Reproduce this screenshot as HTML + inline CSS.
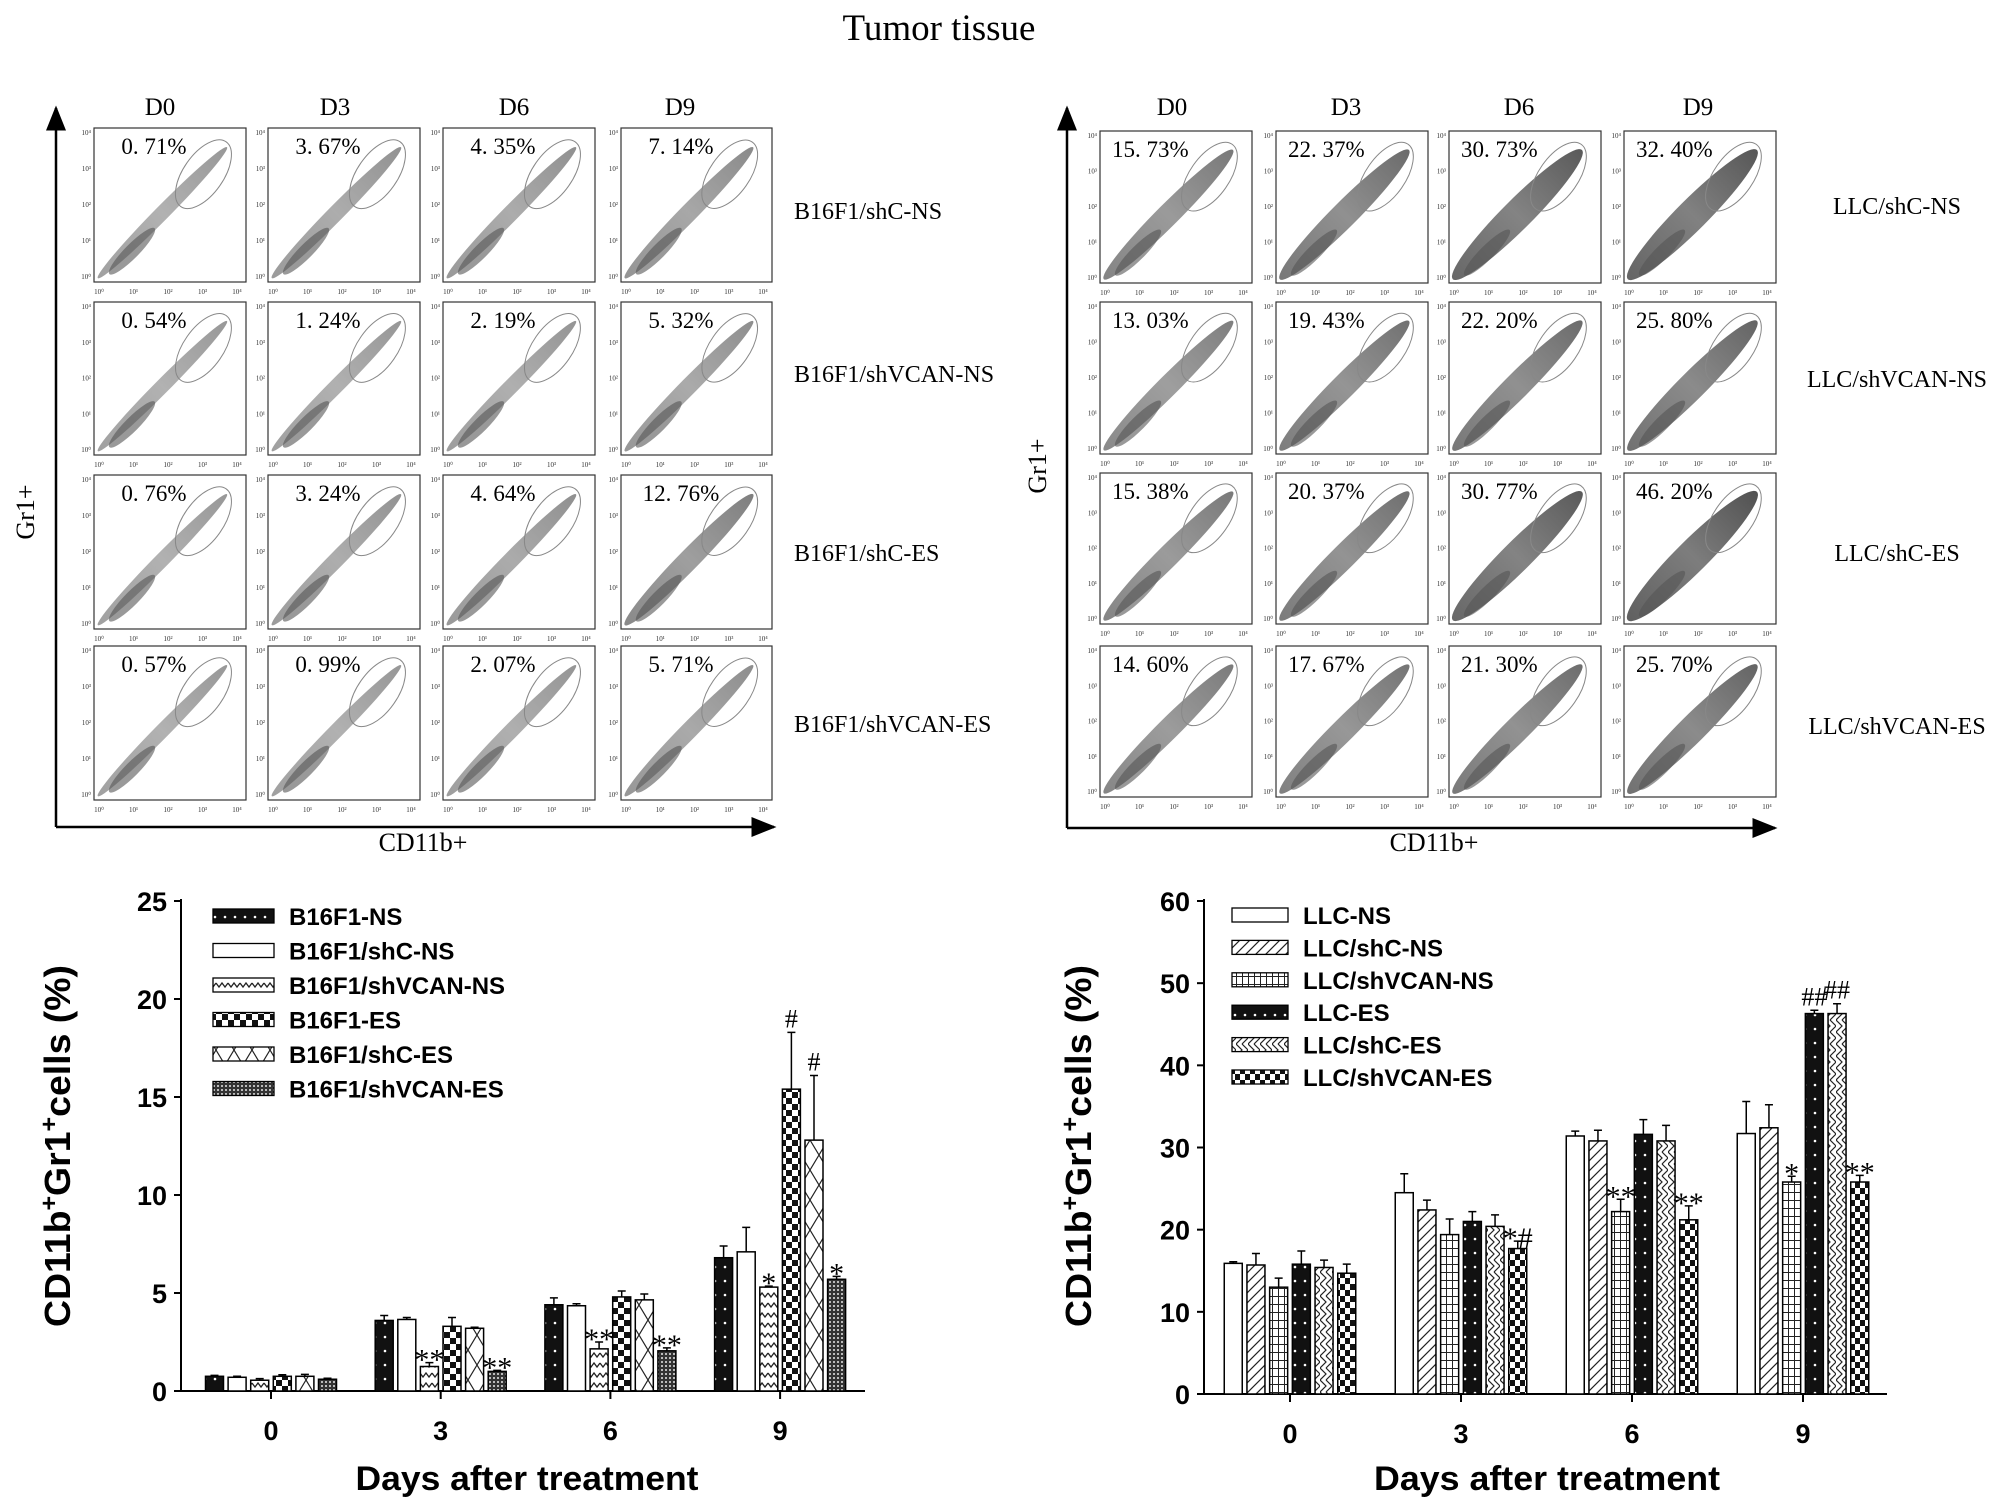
<!DOCTYPE html>
<html><head><meta charset="utf-8"><title>Tumor tissue</title>
<style>
html,body{margin:0;padding:0;background:#fff;}
svg{display:block;}
.serif{font-family:"Liberation Serif",serif;}
.sans{font-family:"Liberation Sans",sans-serif;font-weight:bold;}
</style></head>
<body>
<svg id="fig" xmlns="http://www.w3.org/2000/svg" width="2008" height="1511" viewBox="0 0 2008 1511">
<defs>
  <pattern id="pDots" width="10" height="14" patternUnits="userSpaceOnUse"><rect width="10" height="14" fill="#111"/><circle cx="5" cy="7" r="1.3" fill="#fff"/></pattern>
  <pattern id="pZig" width="12" height="10" patternUnits="userSpaceOnUse"><rect width="12" height="10" fill="#fff"/><path d="M0 3 L3 7 L6 3 L9 7 L12 3" stroke="#222" stroke-width="1.3" fill="none"/></pattern>
  <pattern id="pCheck" width="12" height="12" patternUnits="userSpaceOnUse"><rect width="12" height="12" fill="#fff"/><rect width="6" height="6" fill="#111"/><rect x="6" y="6" width="6" height="6" fill="#111"/></pattern>
  <pattern id="pCheck2" width="10" height="12" patternUnits="userSpaceOnUse"><rect width="10" height="12" fill="#fff"/><rect width="5" height="6" fill="#111"/><rect x="5" y="6" width="5" height="6" fill="#111"/></pattern>
  <pattern id="pX" width="18" height="30" patternUnits="userSpaceOnUse"><rect width="18" height="30" fill="#fff"/><path d="M0 0 L18 30 M18 0 L0 30" stroke="#222" stroke-width="1.2"/></pattern>
  <pattern id="pGrid" width="4" height="4" patternUnits="userSpaceOnUse"><rect width="4" height="4" fill="#333"/><rect x="1" y="1" width="2" height="2" fill="#bbb"/></pattern>
  <pattern id="pHatch" width="10" height="10" patternUnits="userSpaceOnUse"><rect width="10" height="10" fill="#fff"/><path d="M0 10 L10 0 M-2 2 L2 -2 M8 12 L12 8" stroke="#222" stroke-width="1.2"/></pattern>
  <pattern id="pSq" width="6" height="8" patternUnits="userSpaceOnUse"><rect width="6" height="8" fill="#fff"/><path d="M0 0.5 H6 M0.5 0 V8" stroke="#222" stroke-width="1"/></pattern>
  <pattern id="pZig2" width="12" height="12" patternUnits="userSpaceOnUse"><rect width="12" height="12" fill="#fff"/><path d="M0 0 L6 6 L0 12 M6 0 L12 6 L6 12" stroke="#222" stroke-width="1.2" fill="none"/></pattern>
  <linearGradient id="blobG" x1="0" y1="0" x2="1" y2="0"><stop offset="0" stop-color="#444"/><stop offset="0.5" stop-color="#666"/><stop offset="1" stop-color="#333"/></linearGradient>
  <marker id="arr" markerWidth="10" markerHeight="10" refX="9" refY="5" orient="auto"><path d="M0 1 L10 5 L0 9 Z" fill="#000"/></marker>
</defs>

<text x="939" y="40" text-anchor="middle" class="serif" font-size="37">Tumor tissue</text>

<g id="flowLeft"></g>
<g id="flowRight"></g>
<g id="chartLeft"></g>
<g id="chartRight"></g>
</svg>

<script>
// ---------- Flow panel data ----------
const flowDays = ["D0","D3","D6","D9"];
const b16Rows = ["B16F1/shC-NS","B16F1/shVCAN-NS","B16F1/shC-ES","B16F1/shVCAN-ES"];
const b16Pct = [["0. 71%","3. 67%","4. 35%","7. 14%"],["0. 54%","1. 24%","2. 19%","5. 32%"],["0. 76%","3. 24%","4. 64%","12. 76%"],["0. 57%","0. 99%","2. 07%","5. 71%"]];
const llcRows = ["LLC/shC-NS","LLC/shVCAN-NS","LLC/shC-ES","LLC/shVCAN-ES"];
const llcPct = [["15. 73%","22. 37%","30. 73%","32. 40%"],["13. 03%","19. 43%","22. 20%","25. 80%"],["15. 38%","20. 37%","30. 77%","46. 20%"],["14. 60%","17. 67%","21. 30%","25. 70%"]];

// ---------- Bar chart data ----------
const days = ["0","3","6","9"];
const b16Series = ["B16F1-NS","B16F1/shC-NS","B16F1/shVCAN-NS","B16F1-ES","B16F1/shC-ES","B16F1/shVCAN-ES"];
const b16Values = [[0.75,0.7,0.55,0.75,0.75,0.6],[3.6,3.65,1.25,3.3,3.2,1.0],[4.4,4.35,2.15,4.8,4.65,2.05],[6.8,7.1,5.3,15.4,12.8,5.7]];
const b16Errors = [[0.05,0.05,0.08,0.08,0.1,0.05],[0.25,0.1,0.2,0.45,0.05,0.05],[0.35,0.1,0.35,0.3,0.3,0.15],[0.6,1.25,0.05,2.9,3.3,0.15]];
const b16Marks = [["","","","","",""],["","","**","","","**"],["","","**","","","**"],["","","*","#","#","*"]];
const b16Ticks = [0,5,10,15,20,25];
const llcSeries = ["LLC-NS","LLC/shC-NS","LLC/shVCAN-NS","LLC-ES","LLC/shC-ES","LLC/shVCAN-ES"];
const llcValues = [[15.9,15.7,13.0,15.8,15.4,14.7],[24.5,22.4,19.4,21.0,20.4,17.7],[31.4,30.8,22.2,31.6,30.8,21.2],[31.7,32.4,25.8,46.3,46.3,25.8]];
const llcErrors = [[0.2,1.4,1.1,1.6,0.9,1.1],[2.3,1.2,1.9,1.2,1.4,0.9],[0.6,1.3,1.5,1.8,1.9,1.7],[3.9,2.8,0.7,0.4,1.2,0.8]];
const llcMarks = [["","","","","",""],["","","","","","*#"],["","","**","","","**"],["","","*","##","##","**"]];
const llcTicks = [0,10,20,30,40,50,60];

const NS = "http://www.w3.org/2000/svg";
function mk(parent, tag, attrs, text){
  const e = document.createElementNS(NS, tag);
  for (const k in attrs) e.setAttribute(k, attrs[k]);
  if (text !== undefined) e.textContent = text;
  parent.appendChild(e);
  return e;
}

// ---------- Flow panels ----------
function flowBlock(g, cfg){
  const ya = mk(g,"line",{x1:cfg.ax,y1:cfg.ay1,x2:cfg.ax,y2:cfg.ay0,stroke:"#000","stroke-width":2.5,"marker-end":"url(#arr)"});
  
  
  const xa = mk(g,"line",{x1:cfg.ax,y1:cfg.ay1,x2:cfg.ax1,y2:cfg.ay1,stroke:"#000","stroke-width":2.5,"marker-end":"url(#arr)"});
  
  
  const gl = mk(g,"text",{x:cfg.glx,y:cfg.gly,"text-anchor":"middle","font-size":26,class:"serif",transform:`rotate(-90 ${cfg.glx} ${cfg.gly})`},"Gr1+");
  
  
  const cl = mk(g,"text",{x:cfg.clx,y:851,"text-anchor":"middle","font-size":26,class:"serif"},"CD11b+");
  
  
  flowDays.forEach((d,c)=>{
    const t = mk(g,"text",{x:cfg.dayX[c],y:115,"text-anchor":"middle","font-size":25,class:"serif"},d);
    
    
  });
  cfg.rows.forEach((r,ri)=>{
    const t = mk(g,"text",{x:cfg.rowX,y:cfg.rowY[ri]+8,"text-anchor":cfg.rowAnchor,"font-size":24,class:"serif"},r);
    
    
    for (let c=0;c<4;c++){
      const x0=cfg.colX[c][0], x1=cfg.colX[c][1], y0=cfg.rowYr[ri][0], y1=cfg.rowYr[ri][1];
      const w=x1-x0, h=y1-y0;
      const pg = mk(g,"g",{});
      
      
      mk(pg,"rect",{x:x0,y:y0,width:w,height:h,fill:"#fff",stroke:"#333","stroke-width":1.2});
      const cx=x0+w*0.45, cy=y0+h*0.55, L=Math.hypot(w*0.85,h*0.85)/2;
      const ang=-Math.atan2(h*0.85,w*0.85)*180/Math.PI;
      const dens = cfg.dens[ri][c];
      mk(pg,"ellipse",{cx:cx,cy:cy,rx:L,ry:7+dens*9,fill:"url(#blobG)",opacity:0.5+dens*0.35,transform:`rotate(${ang} ${cx} ${cy})`});
      mk(pg,"ellipse",{cx:x0+w*0.25,cy:y0+h*0.8,rx:L*0.35,ry:7,fill:"#555",opacity:0.6,transform:`rotate(${ang} ${x0+w*0.25} ${y0+h*0.8})`});
      const gx=x0+w*0.72, gy=y0+h*0.3;
      mk(pg,"ellipse",{cx:gx,cy:gy,rx:w*0.26,ry:h*0.13,fill:"none",stroke:"#888","stroke-width":1,transform:`rotate(-55 ${gx} ${gy})`});
      for (let k=0;k<5;k++){
        mk(pg,"text",{x:x0+5+k*(w-14)/4,y:y1+12,"font-size":7,"text-anchor":"middle",class:"serif",fill:"#333"},"10"+"⁰¹²³⁴"[k]);
        mk(pg,"text",{x:x0-3,y:y1-3-k*(h-10)/4,"font-size":7,"text-anchor":"end",class:"serif",fill:"#333"},"10"+"⁰¹²³⁴"[k]);
      }
      const px = cfg.pctAnchor==="middle" ? x0+60 : x0+12;
      const pt = mk(pg,"text",{x:px,y:y0+26,"font-size":23,"text-anchor":cfg.pctAnchor,class:"serif"},cfg.pct[ri][c]);
      
      
    }
  });
}
function densFrom(p){return p.map(r=>r.map(s=>Math.min(1,parseFloat(s.replace(' ',''))/35)));}
flowBlock(document.getElementById("flowLeft"),{
  ax:56,ay0:108,ay1:827,ax1:774,glx:34,gly:512,clx:423,
  dayX:[160,335,514,680],rows:b16Rows,rowX:794,rowAnchor:"start",rowY:[211,374,553,724],
  colX:[[94,246],[268,420],[443,595],[621,772]],rowYr:[[128,282],[302,455],[475,629],[646,800]],
  pct:b16Pct,pctAnchor:"middle",dens:densFrom(b16Pct)});
flowBlock(document.getElementById("flowRight"),{
  ax:1067,ay0:108,ay1:828,ax1:1775,glx:1046,gly:466,clx:1434,
  dayX:[1172,1346,1519,1698],rows:llcRows,rowX:1897,rowAnchor:"middle",rowY:[206,379,553,726],
  colX:[[1100,1252],[1276,1428],[1449,1601],[1624,1776]],rowYr:[[131,283],[302,454],[473,624],[646,797]],
  pct:llcPct,pctAnchor:"start",dens:densFrom(llcPct)});

// ---------- Bar charts ----------
function barChart(g, cfg){
  const y = v => cfg.y0 - v/cfg.max*(cfg.y0-cfg.yTop);
  const gx = i => cfg.gx0 + i*cfg.gstep;
  const ax = mk(g,"line",{x1:cfg.ax,y1:cfg.yTop-2,x2:cfg.ax,y2:cfg.y0,stroke:"#000","stroke-width":2});
  
  
  const xax = mk(g,"line",{x1:cfg.ax,y1:cfg.y0,x2:cfg.axEnd,y2:cfg.y0,stroke:"#000","stroke-width":2});
  
  
  cfg.ticks.forEach(t=>{
    mk(g,"line",{x1:cfg.ax-7,y1:y(t),x2:cfg.ax,y2:y(t),stroke:"#000","stroke-width":2});
    const tl = mk(g,"text",{x:cfg.ax-14,y:y(t)+10,"text-anchor":"end","font-size":27,class:"sans"},String(t));
    
    
  });
  cfg.days.forEach((d,i)=>{
    mk(g,"line",{x1:gx(i),y1:cfg.y0,x2:gx(i),y2:cfg.y0+8,stroke:"#000","stroke-width":2});
    const tl = mk(g,"text",{x:gx(i),y:cfg.y0+49,"text-anchor":"middle","font-size":27,class:"sans"},d);
    
    
    cfg.values[i].forEach((v,s)=>{
      const cx = gx(i) + (s-2.5)*cfg.bstep;
      const top = y(v);
      const b = mk(g,"rect",{x:cx-cfg.bw/2,y:top,width:cfg.bw,height:cfg.y0-top,fill:cfg.fills[s],stroke:"#000","stroke-width":1.5});
      
      
      const e = cfg.errors[i][s];
      const et = y(v+e);
      const eb = mk(g,"path",{d:`M${cx} ${top} V${et} M${cx-4} ${et} H${cx+4}`,stroke:"#000","stroke-width":1.5,fill:"none"});
      
      
      const m = cfg.marks[i][s];
      if (m){
        const isHash = m.indexOf('#')>=0 && m.indexOf('*')<0;
        const mt = mk(g,"text",{x:cx,y:isHash? et-5 : et+7,"text-anchor":"middle","font-size":isHash?26:30,class:"serif"},m);
        
        
      }
    });
  });
  cfg.series.forEach((s,k)=>{
    const ly = cfg.legY0 + k*cfg.legStep;
    const sw = mk(g,"rect",{x:cfg.legX,y:ly-7,width:cfg.legW,height:14,fill:cfg.fills[k],stroke:"#000","stroke-width":1.3});
    
    
    const lt = mk(g,"text",{x:cfg.legX+cfg.legW+15,y:ly+9,"font-size":24,class:"sans"},s);
    
    
  });
  const xt = mk(g,"text",{x:cfg.xtX,y:1490,"text-anchor":"middle","font-size":34,class:"sans",textLength:cfg.xtLen,lengthAdjust:"spacingAndGlyphs"},"Days after treatment");
  
  
  const yt = mk(g,"text",{x:cfg.ytX,y:1146,"text-anchor":"middle","font-size":36,class:"sans",textLength:362,lengthAdjust:"spacingAndGlyphs",transform:`rotate(-90 ${cfg.ytX} 1146)`});
  
  
  yt.innerHTML = 'CD11b<tspan baseline-shift="super" font-size="24">+</tspan>Gr1<tspan baseline-shift="super" font-size="24">+</tspan>cells (%)';
}
barChart(document.getElementById("chartLeft"),{
  y0:1391,yTop:901,max:25,ax:181,axEnd:865,gx0:271,gstep:169.7,bw:18,bstep:22.6,
  days:days,values:b16Values,errors:b16Errors,marks:b16Marks,ticks:b16Ticks,series:b16Series,
  fills:["url(#pDots)","#fff","url(#pZig)","url(#pCheck)","url(#pX)","url(#pGrid)"],
  legX:213,legW:61,legY0:916,legStep:34.5,xtX:527,xtLen:343,ytX:70});
barChart(document.getElementById("chartRight"),{
  y0:1394,yTop:901,max:60,ax:1204,axEnd:1887,gx0:1290,gstep:171,bw:18,bstep:22.7,
  days:days,values:llcValues,errors:llcErrors,marks:llcMarks,ticks:llcTicks,series:llcSeries,
  fills:["#fff","url(#pHatch)","url(#pSq)","url(#pDots)","url(#pZig2)","url(#pCheck2)"],
  legX:1232,legW:56,legY0:915,legStep:32.4,xtX:1547,xtLen:346,ytX:1091});
</script>
</body></html>
